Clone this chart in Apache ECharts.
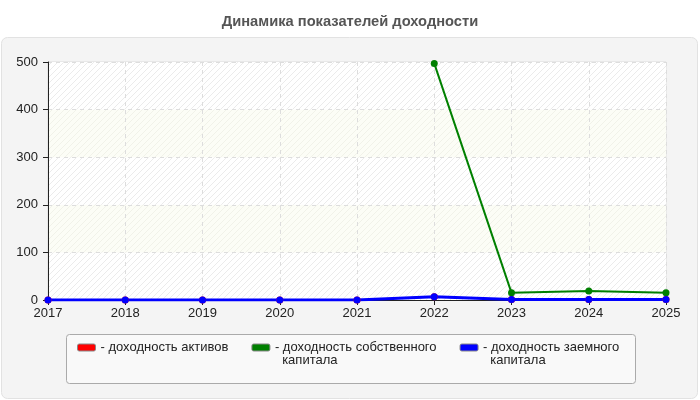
<!DOCTYPE html>
<html>
<head>
<meta charset="utf-8">
<script src="https://cdn.jsdelivr.net/npm/echarts@6/dist/echarts.min.js"></script>
<style>
  html, body { margin: 0; padding: 0; background: #fff; }
  #chart { width: 700px; height: 400px; }
</style>
</head>
<body>
<div id="chart"></div>
<script>
"use strict";

// годы
const years = ["2017", "2018", "2019", "2020", "2021", "2022", "2023", "2024", "2025"];
// доходность активов
const assetsReturn = [0, 0, 0, 0, 0, 7, 1, 1, 1];
// доходность собственного капитала
const equityReturn = [null, null, null, null, null, 497, 15, 19, 15];
// доходность заемного капитала
const debtReturn = [0, 0, 0, 0, 0, 7, 1, 1, 1];

const seriesNames = [
  "доходность активов",
  "доходность собственного капитала",
  "доходность заемного капитала",
];
// подписи легенды (с переносом строки)
const legendLabels = {
  "доходность активов": "- доходность активов",
  "доходность собственного капитала": "\n- доходность собственного\n  капитала",
  "доходность заемного капитала": "\n- доходность заемного\n  капитала",
};

// штриховка фона
const hatch = (bg, line) => {
  const c = document.createElement("canvas");
  c.width = 6;
  c.height = 6;
  const ctx = c.getContext("2d");
  ctx.fillStyle = bg;
  ctx.fillRect(0, 0, 6, 6);
  ctx.strokeStyle = line;
  ctx.lineWidth = 1;
  ctx.beginPath();
  ctx.moveTo(0, 6); ctx.lineTo(6, 0);
  ctx.moveTo(-3, 3); ctx.lineTo(3, -3);
  ctx.moveTo(3, 9); ctx.lineTo(9, 3);
  ctx.stroke();
  return { image: c, repeat: "repeat" };
};

const font = "Liberation Sans, Arial, sans-serif";

const lineSeries = (name, data, color, width) => ({
  name,
  type: "line",
  data,
  symbol: "circle",
  symbolSize: 7,
  connectNulls: false,
  lineStyle: { color, width },
  itemStyle: { color },
  animation: false,
});

const chart = echarts.init(document.getElementById("chart"));
chart.setOption({
  backgroundColor: "#fff",
  textStyle: { fontFamily: font },
  title: {
    text: "Динамика показателей доходности",
    left: "center",
    top: 9,
    textStyle: { fontSize: 14.7, fontWeight: "bold", color: "#555", fontFamily: font },
  },
  graphic: [
    {
      // подложка
      type: "rect",
      z: -10,
      shape: { x: 1.5, y: 37.5, width: 696, height: 361, r: 6 },
      style: { fill: "#f4f4f4", stroke: "#e2e2e2", lineWidth: 1 },
    },
    {
      // рамка легенды
      type: "rect",
      z: -5,
      shape: { x: 66.5, y: 334.5, width: 569, height: 49, r: 3 },
      style: { fill: "#f9f9f9", stroke: "#aaaaaa", lineWidth: 1 },
    },
  ],
  grid: {
    left: 48,
    right: 34,
    top: 62,
    bottom: 100,
    show: true,
    backgroundColor: "#fff",
    borderColor: "#dddddd",
    borderWidth: 1,
  },
  legend: {
    left: 77,
    top: 328,
    padding: 0,
    orient: "horizontal",
    itemWidth: 18,
    itemHeight: 7,
    itemGap: 23,
    icon: "roundRect",
    data: seriesNames,
    formatter: (name) => legendLabels[name],
    textStyle: { fontSize: 13, color: "#222", fontFamily: font, lineHeight: 13 },
    itemStyle: { borderColor: "#888", borderWidth: 1 },
    selectedMode: false,
  },
  xAxis: {
    type: "category",
    data: years,
    boundaryGap: false,
    axisLine: { lineStyle: { color: "#222", width: 1 } },
    axisTick: { show: true, alignWithLabel: true, length: 5, lineStyle: { color: "#222" } },
    axisLabel: { color: "#222", fontSize: 13, margin: 7, fontFamily: font },
    splitLine: { show: true, lineStyle: { color: "#dddddd", type: [4, 4] } },
  },
  yAxis: {
    type: "value",
    min: 0,
    max: 500,
    interval: 100,
    axisLine: { show: true, lineStyle: { color: "#222", width: 1 } },
    axisTick: { show: true, length: 5, lineStyle: { color: "#222" } },
    axisLabel: { color: "#222", fontSize: 13, margin: 10, fontFamily: font },
    splitLine: { show: true, lineStyle: { color: "#dddddd", type: [4, 4] } },
    splitArea: {
      show: true,
      areaStyle: { color: [hatch("#ffffff", "#ebebeb"), hatch("#fcfdf6", "#f1f2e9")] },
    },
  },
  series: [
    lineSeries(seriesNames[0], assetsReturn, "#ff0000", 1.5),
    lineSeries(seriesNames[1], equityReturn, "#008000", 2),
    lineSeries(seriesNames[2], debtReturn, "#0000ff", 3),
  ],
});
</script>
</body>
</html>
